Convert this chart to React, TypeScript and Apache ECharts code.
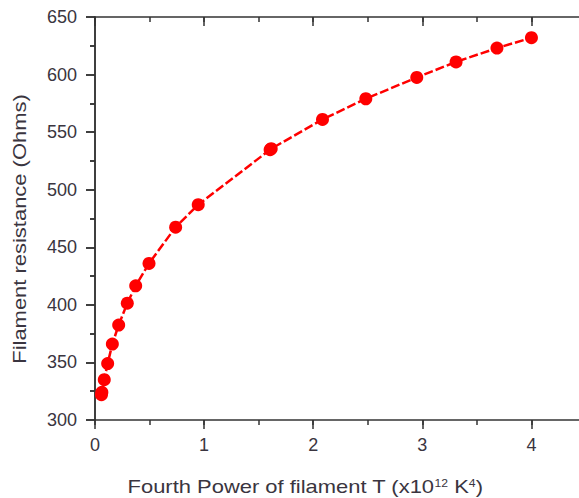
import React, { useEffect, useRef } from "react";
import * as echarts from "echarts";

const xValues = [0.059, 0.063, 0.085, 0.116, 0.159, 0.217, 0.296, 0.373, 0.495, 0.739, 0.946, 1.605, 1.615, 2.085, 2.482, 2.949, 3.309, 3.684, 4.0];
const yValues = [322, 324, 335, 349, 366, 382.5, 401.5, 416.5, 436, 467.5, 487, 534.8, 535.6, 561, 579, 597.5, 611, 623, 632];
const xTicks = [0, 1, 2, 3, 4];
const yTitle = "Filament resistance (Ohms)";
const xTitleParts = ["Fourth Power of filament T (x10", "12", " K", "4", ")"];

const FONT = "'Liberation Sans', Arial, sans-serif";
const TEXT = "#3a3540";
const AXIS = "#333333";

export default function App() {
  const ref = useRef<HTMLDivElement>(null);
  useEffect(() => {
    document.body.style.margin = "0";
    document.body.style.overflow = "hidden";
    document.documentElement.style.overflow = "hidden";
    const chart = echarts.init(ref.current!, null, { renderer: "svg" });
    const xBase = {
      type: "value" as const,
      min: 0,
      max: 4.5,
      splitLine: { show: false },
    };
    const yBase = {
      type: "value" as const,
      min: 300,
      max: 650,
      interval: 50,
      splitLine: { show: false },
    };
    const lineStyle = { color: AXIS, width: 1.5 };
    chart.setOption({
      animation: false,
      grid: { left: 95, top: 17, right: 0, bottom: 78, containLabel: false },
      xAxis: [
        {
          ...xBase,
          position: "bottom",
          interval: 1,
          axisLine: { show: true, lineStyle },
          axisTick: { show: true, length: 9, inside: false, lineStyle },
          axisLabel: {
            show: true,
            margin: 16,
            fontSize: 18,
            fontFamily: FONT,
            color: TEXT,
            showMaxLabel: false,
            formatter: (v: number) => (xTicks.includes(v) ? String(v) : ""),
          },
        },
        {
          ...xBase,
          position: "bottom",
          interval: 0.5,
          axisLine: { show: false },
          axisTick: { show: true, length: 5, inside: false, lineStyle },
          axisLabel: { show: false },
        },
        {
          ...xBase,
          position: "top",
          interval: 1,
          axisLine: { show: true, lineStyle },
          axisTick: { show: true, length: 9, inside: true, lineStyle },
          axisLabel: { show: false },
        },
        {
          ...xBase,
          position: "top",
          interval: 0.5,
          axisLine: { show: false },
          axisTick: { show: true, length: 5, inside: true, lineStyle },
          axisLabel: { show: false },
        },
      ],
      yAxis: [
        {
          ...yBase,
          position: "left",
          axisLine: { show: true, lineStyle },
          axisTick: { show: true, length: 9, inside: false, lineStyle },
          minorTick: { show: true, splitNumber: 2, length: 5, lineStyle },
          axisLabel: {
            show: true,
            margin: 18,
            fontSize: 18,
            fontFamily: FONT,
            color: TEXT,
          },
        },
        {
          ...yBase,
          position: "right",
          axisLine: { show: true, lineStyle },
          axisTick: { show: true, length: 9, inside: true, lineStyle },
          minorTick: { show: true, splitNumber: 2, length: 5, lineStyle },
          axisLabel: { show: false },
        },
      ],
      series: [
        {
          type: "line",
          xAxisIndex: 0,
          yAxisIndex: 0,
          data: xValues.map((x, i) => [x, yValues[i]]),
          symbol: "circle",
          symbolSize: 13,
          itemStyle: { color: "#ff0000" },
          lineStyle: { color: "#ff0000", width: 2.5, type: [9, 3] },
          z: 5,
        },
      ],
      graphic: [
        {
          type: "text",
          x: 305,
          y: 487,
          scaleX: 1.22,
          style: {
            text: `${xTitleParts[0]}{sup|${xTitleParts[1]}}${xTitleParts[2]}{sup|${xTitleParts[3]}}${xTitleParts[4]}`,
            font: `18px ${FONT}`,
            fill: TEXT,
            align: "center",
            verticalAlign: "middle",
            rich: {
              sup: { fontSize: 10, fontFamily: FONT, fill: TEXT, verticalAlign: "top", lineHeight: 12 },
            },
          },
        },
        {
          type: "text",
          x: 20,
          y: 229,
          rotation: Math.PI / 2,
          scaleX: 1.22,
          style: {
            text: yTitle,
            font: `18px ${FONT}`,
            fill: TEXT,
            align: "center",
            verticalAlign: "middle",
          },
        },
      ],
    });
    return () => chart.dispose();
  }, []);
  return <div ref={ref} style={{ width: 586, height: 498 }} />;
}
